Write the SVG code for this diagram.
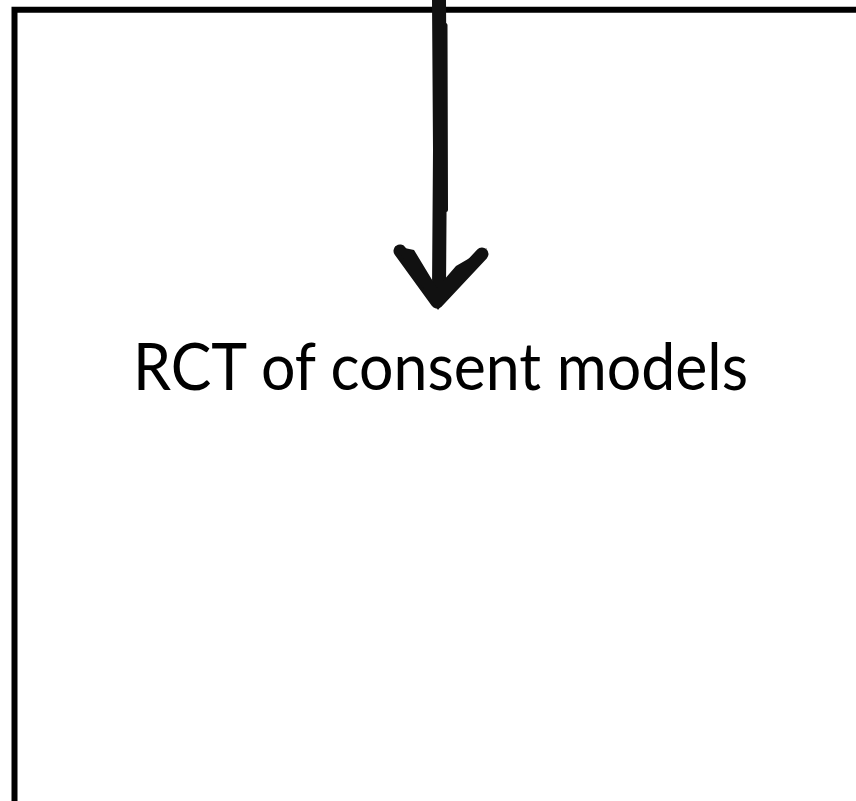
<svg xmlns="http://www.w3.org/2000/svg" width="856" height="801" viewBox="0 0 856 801">
<style>
.frame{fill:none;stroke:#000;stroke-width:6}
.conn{fill:none;stroke:#111;stroke-linecap:round;stroke-linejoin:round}
.lbl{font-family:"Lato","Open Sans","Liberation Sans",sans-serif;font-size:65px;fill:#000}
</style>
<rect width="856" height="801" fill="#fff"/>
<g id="frame">
<path class="frame" d="M14.5,801 V9.8 H856"/>
</g>
<g id="connectors">
<path class="conn" stroke-width="14" d="M439,0 L440,150 L439,290"/>
<path class="conn" stroke-width="4" stroke="#444" d="M445.5,25 L446,210"/>
<path class="conn" stroke-width="13" d="M400,251 L437,302 L482,254"/>
<path d="M395,246 L414,250 L437,288 L456,266 L487,248 L472,266 L438,310 Z" fill="#111"/>
</g>
<g id="node-rct">
<text class="lbl" x="133" y="390" textLength="615" lengthAdjust="spacingAndGlyphs">RCT of consent models</text>
</g>
</svg>
